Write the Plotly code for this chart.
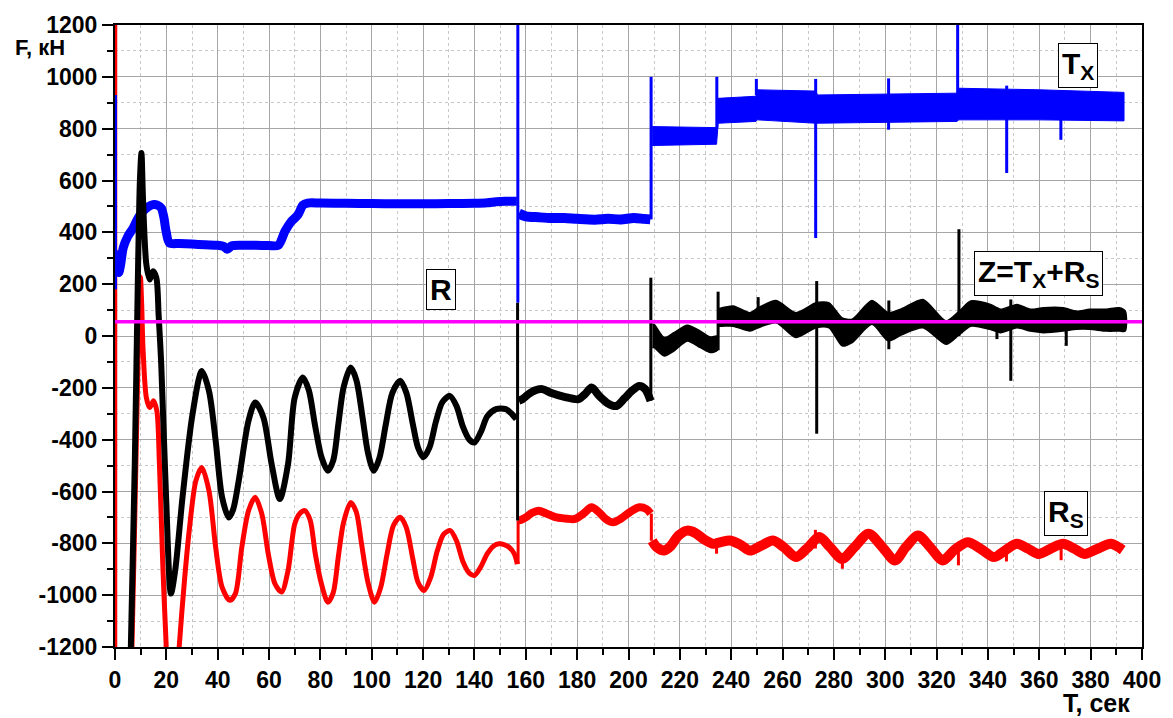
import plotly.graph_objects as go

# ---------------- data ----------------
# R_S (red): smooth part 0..157 s
rs1_t = [6.2, 6.6, 8.4, 9.3, 9.9, 10.4, 10.9, 12.2, 13.5, 15.0, 16.3, 17.3, 18.6, 19.9, 20.5,
         24.5, 25.0, 27.0, 28.9, 31.5, 33.8, 36.6, 39.2, 41.7, 44.7, 46.9, 49.4, 52.0, 54.6,
         57.2, 59.7, 62.3, 64.9, 67.4, 70.0, 72.0, 73.9, 76.0, 78.0, 80.5, 82.9, 85.0, 87.0,
         89.0, 91.8, 94.0, 96.0, 98.5, 101.1, 103.5, 106.0, 108.5, 111.1, 113.5, 116.0, 118.0,
         120.4, 123.0, 125.5, 128.0, 130.6, 133.0, 135.5, 138.0, 140.0, 142.5, 145.0, 147.5,
         149.6, 151.5, 153.5, 155.5, 156.7]
rs1_v = [-1300, -1200, -366, 50, 228, 120, -45, -237, -276, -250, -289, -493, -879, -1186, -1300,
         -1300, -1200, -950, -751, -558, -507, -597, -815, -969, -1020, -994, -815, -674, -622,
         -687, -841, -956, -988, -905, -725, -685, -674, -710, -840, -960, -1027, -990, -850,
         -720, -642, -680, -800, -950, -1027, -970, -840, -730, -699, -740, -860, -950,
         -982, -930, -830, -765, -751, -790, -870, -915, -924, -890, -840, -810,
         -802, -805, -815, -840, -880]
# R_S 157..209 s
rs2_t = [157.2, 158.0, 160.0, 162.5, 165.0, 168.0, 172.0, 176.0, 179.2, 182.5, 185.6, 188.5,
         191.0, 194.0, 197.0, 200.5, 204.2, 207.0, 208.6]
rs2_v = [-712, -710, -700, -682, -674, -685, -700, -705, -706, -685, -661, -680,
         -705, -719, -705, -680, -661, -668, -685]
# R_S 209..393 s
rs3_t = [209.2, 211.0, 213.9, 216.5, 219.5, 222.9, 226.0, 229.5, 233.1, 236.0, 239.6, 243.5,
         247.3, 251.5, 256.3, 260.5, 265.2, 269.5, 274.3, 278.5, 283.2, 288.0, 293.5, 298.5,
         303.8, 308.0, 312.8, 317.5, 322.4, 327.0, 332.1, 337.0, 342.3, 347.0, 351.3, 355.5,
         359.7, 364.5, 369.3, 373.5, 377.6, 382.5, 387.9, 392.5]
rs3_v = [-790, -815, -828, -810, -770, -751, -760, -785, -802, -795, -789, -805,
         -828, -810, -789, -815, -853, -820, -776, -815, -860, -815, -763, -810,
         -866, -815, -770, -815, -866, -825, -796, -820, -853, -825, -802, -820,
         -841, -820, -802, -820, -841, -822, -802, -826]
rs_spike_t = [0.3, 157.0, 208.9, 234.3, 272.8, 283.3, 328.5, 347.2, 368.5]
rs_spike_lo = [-1300, -880, -790, -840, -820, -898, -885, -870, -865]
rs_spike_hi = [1300, -712, -685, -795, -748, -850, -830, -820, -820]

# T_X (blue): 0..157 s
tx1_t = [0.3, 1.0, 1.5, 2.2, 3.2, 5.0, 7.1, 9.0, 10.9, 12.8, 14.8, 16.5, 18.0, 19.0, 19.9,
         21.2, 25.0, 30.0, 35.0, 40.0, 42.5, 43.7, 45.5, 50.0, 55.0, 60.0, 63.6, 66.2, 68.5,
         71.3, 73.2, 75.0, 80.0, 90.0, 100.0, 110.0, 120.0, 130.0, 140.0, 145.0, 148.4, 152.0,
         156.5]
tx1_v = [330, 290, 245, 275, 340, 385, 417, 455, 481, 498, 507, 505, 494, 460, 404,
         359, 357, 355, 352, 350, 345, 335, 348, 350, 350, 349, 350, 404, 440,
         468, 505, 513, 513, 512, 511, 510, 510, 511, 512, 514, 518, 520, 520]
# T_X 157..209 s
tx2_t = [157.3, 160.0, 165.0, 170.0, 175.0, 180.0, 186.9, 192.0, 197.0, 202.0, 206.0, 208.5]
tx2_v = [472, 462, 458, 455, 455, 452, 449, 452, 450, 455, 452, 450]
# T_X 209..393 s : envelope of the dense oscillation band
tx3_t = [209.2, 234.3, 234.9, 249.6, 250.2, 273.0, 273.6, 328.0, 328.6, 360.0, 393.0]
tx3_hi = [808, 804, 917, 925, 950, 945, 930, 937, 956, 950, 940]
tx3_lo = [735, 740, 821, 828, 834, 821, 821, 828, 834, 834, 830]
tx_spike_t = [0.2, 156.9, 208.8, 234.4, 249.8, 272.9, 301.3, 328.2, 347.3, 368.4]
tx_spike_lo = [180, 128, 450, 800, 930, 378, 796, 930, 629, 757]
tx_spike_hi = [930, 1300, 1000, 1000, 992, 992, 994, 1300, 966, 850]

# Z = T_X + R_S (black): 0..157 s
z1_t = [6.0, 6.2, 7.7, 9.0, 9.7, 10.3, 10.9, 12.2, 13.5, 14.8, 16.1, 17.0, 18.0, 19.9, 21.8,
        23.5, 26.3, 30.2, 33.8, 36.6, 39.2, 41.7, 44.3, 46.0, 48.2, 52.0, 54.6, 57.8, 61.0,
        64.2, 67.4, 70.0, 73.2, 75.5, 78.0, 80.5, 82.9, 85.0, 87.0, 89.0, 91.8, 94.0, 96.5,
        98.5, 100.8, 103.0, 105.5, 108.0, 111.1, 113.5, 116.0, 118.0, 120.1, 122.5, 125.0,
        127.5, 130.4, 133.0, 135.5, 138.0, 140.0, 142.5, 145.0, 148.4, 152.2, 154.5, 156.3]
z1_v = [-1300, -1186, -493, 277, 600, 706, 532, 277, 218, 250, 225, 80, -108, -622, -994,
        -900, -622, -301, -135, -212, -404, -622, -700, -670, -558, -327, -257, -314, -494,
        -629, -494, -237, -160, -210, -350, -470, -520, -480, -340, -200, -122, -170, -320,
        -450, -520, -470, -340, -220, -173, -220, -340, -430, -468, -430, -330,
        -255, -231, -270, -350, -400, -411, -370, -310, -282, -282, -300, -321]
# Z 157..209 s
z2_t = [157.3, 158.6, 161.0, 163.5, 166.4, 170.0, 175.0, 180.5, 183.0, 185.6, 188.5, 192.0,
        195.3, 198.5, 201.5, 204.2, 206.5, 208.6]
z2_v = [-250, -244, -225, -210, -205, -220, -235, -244, -225, -199, -230, -260,
        -270, -240, -210, -193, -205, -250]
# Z 209..235 s : envelope of the dense oscillation band
z3_t = [209.3, 210.0, 213.9, 217.7, 222.9, 228.0, 231.9, 234.6]
z3_hi = [45, 45, -6, 13, 41, 19, -4, 0]
z3_lo = [-45, -45, -77, -58, -19, -45, -64, -55]
# Z 235..393 s : envelope of the dense oscillation band
z4_t = [235.0, 236.4, 240.8, 247.3, 250.5, 257.5, 265.2, 273.0, 278.1, 283.2, 287.1, 294.8,
        301.2, 306.4, 314.7, 323.7, 328.8, 333.3, 341.0, 344.9, 351.3, 356.5, 361.6, 369.3,
        374.5, 379.6, 386.0, 391.1, 393.5]
z4_hi = [105, 109, 116, 90, 109, 137, 90, 128, 128, 70, 65, 137,
         90, 105, 141, 58, 96, 135, 122, 103, 122, 103, 109, 109,
         96, 103, 103, 109, 96]
z4_lo = [38, 38, 38, 19, 32, 51, -6, 32, 32, -38, -25, 45,
         -19, 5, 32, -32, 5, 38, 25, 13, 32, 19, 13, 19,
         26, 26, 19, 19, 19]
z_spike_t = [156.8, 208.7, 234.9, 250.5, 273.3, 301.4, 328.7, 343.5, 348.9, 370.5]
z_spike_lo = [-712, -250, -55, 100, -377, -51, 0, -12, -173, -38]
z_spike_hi = [128, 225, 171, 150, 212, 137, 412, 110, 141, 100]

# R (magenta) level
r_t = [0, 400]
r_v = [55, 55]

# axis ticks
x_ticks = list(range(0, 401, 20))
y_ticks = list(range(-1200, 1201, 200))

RED = "#ff0000"
BLUE = "#0000ff"
BLACK = "#000000"
MAG = "#ff00ff"
FONT = "Liberation Sans"


def spikes(ts, lo, hi):
    xs, ys = [], []
    for t, a, b in zip(ts, lo, hi):
        xs += [t, t, None]
        ys += [a, b, None]
    return xs, ys


def band(ts, hi, lo):
    return list(ts) + list(ts)[::-1], list(hi) + list(lo)[::-1]


def smooth(color, width):
    return dict(color=color, width=width, shape="spline", smoothing=0.8)


fig = go.Figure()

# red
fig.add_trace(go.Scatter(x=rs1_t, y=rs1_v, mode="lines", line=smooth(RED, 5)))
fig.add_trace(go.Scatter(x=rs2_t, y=rs2_v, mode="lines", line=smooth(RED, 8)))
fig.add_trace(go.Scatter(x=rs3_t, y=rs3_v, mode="lines", line=smooth(RED, 10)))
sx, sy = spikes(rs_spike_t, rs_spike_lo, rs_spike_hi)
fig.add_trace(go.Scatter(x=sx, y=sy, mode="lines", line=dict(color=RED, width=3)))

# blue
fig.add_trace(go.Scatter(x=tx1_t, y=tx1_v, mode="lines", line=smooth(BLUE, 9)))
fig.add_trace(go.Scatter(x=tx2_t, y=tx2_v, mode="lines", line=smooth(BLUE, 10)))
bx, by = band(tx3_t, tx3_hi, tx3_lo)
fig.add_trace(go.Scatter(x=bx, y=by, mode="lines", fill="toself", fillcolor=BLUE,
                         line=dict(color=BLUE, width=1)))
sx, sy = spikes(tx_spike_t, tx_spike_lo, tx_spike_hi)
fig.add_trace(go.Scatter(x=sx, y=sy, mode="lines", line=dict(color=BLUE, width=3)))

# black
fig.add_trace(go.Scatter(x=z1_t, y=z1_v, mode="lines", line=smooth(BLACK, 6)))
fig.add_trace(go.Scatter(x=z2_t, y=z2_v, mode="lines", line=smooth(BLACK, 8)))
for tt, hh, ll in ((z3_t, z3_hi, z3_lo), (z4_t, z4_hi, z4_lo)):
    bx, by = band(tt, hh, ll)
    fig.add_trace(go.Scatter(x=bx, y=by, mode="lines", fill="toself", fillcolor=BLACK,
                             line=dict(color=BLACK, width=1.5, shape="spline", smoothing=0.7)))
sx, sy = spikes(z_spike_t, z_spike_lo, z_spike_hi)
fig.add_trace(go.Scatter(x=sx, y=sy, mode="lines", line=dict(color=BLACK, width=3)))

# magenta R
fig.add_trace(go.Scatter(x=r_t, y=r_v, mode="lines", line=dict(color=MAG, width=3.5)))

tickfont = dict(family=FONT, size=23, color="black")
axis_common = dict(
    showline=True, linecolor="black", linewidth=2, mirror=True,
    ticks="outside", ticklen=11, tickwidth=2, tickcolor="black",
    showgrid=True, gridcolor="#a6a6a6", gridwidth=1,
    zeroline=False, tickfont=tickfont, tickmode="array",
)
fig.update_xaxes(range=[0, 400], tickvals=x_ticks, ticktext=[f"<b>{v}</b>" for v in x_ticks],
                 **axis_common,
                 minor=dict(dtick=10, ticks="outside", ticklen=6, tickwidth=2, tickcolor="black",
                            showgrid=True, gridcolor="#c8c8c8", griddash="dot", gridwidth=1))
fig.update_yaxes(range=[-1200, 1200], tickvals=y_ticks, ticktext=[f"<b>{v}</b>" for v in y_ticks],
                 **axis_common,
                 minor=dict(dtick=100, ticks="outside", ticklen=6, tickwidth=2, tickcolor="black",
                            showgrid=True, gridcolor="#c8c8c8", griddash="dot", gridwidth=1))

box = dict(showarrow=False, bgcolor="white", bordercolor="black", borderwidth=1, borderpad=3,
           xref="x", yref="y", xanchor="center", yanchor="middle",
           font=dict(family=FONT, size=30, color="black"))
fig.add_annotation(x=375.0, y=1043, text="<b>T<sub>X</sub></b>", **box)
fig.add_annotation(x=126.8, y=179, text="<b>R</b>", **box)
fig.add_annotation(x=359.5, y=242, text="<b>Z=T<sub>X</sub>+R<sub>S</sub></b>", **box)
fig.add_annotation(x=370.5, y=-685, text="<b>R<sub>S</sub></b>", **box)

fig.add_annotation(x=-0.0727, y=0.9636, xref="paper", yref="paper", text="<b>F, кН</b>",
                   showarrow=False, xanchor="center", yanchor="middle",
                   font=dict(family=FONT, size=22, color="black"))
fig.add_annotation(x=0.9557, y=-0.1135, xref="paper", yref="paper", text="<b>T, сек</b>",
                   showarrow=False, xanchor="center", yanchor="bottom", borderpad=0,
                   font=dict(family=FONT, size=25, color="black"))

fig.update_layout(
    width=1173, height=718,
    margin=dict(l=115, r=20, t=23, b=71),
    paper_bgcolor="white", plot_bgcolor="white",
    showlegend=False,
)

fig.write_html("out.html")
